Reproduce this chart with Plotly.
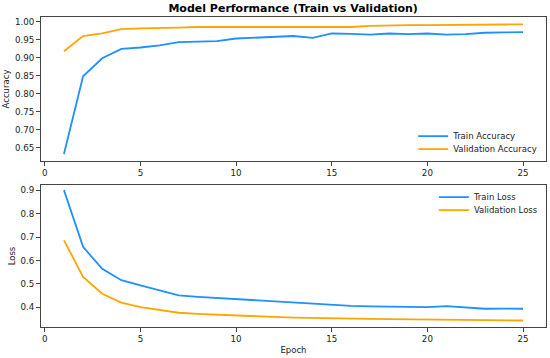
import plotly.graph_objects as go

epochs = list(range(1, 26))
train_acc = [0.632, 0.848, 0.898, 0.924, 0.928, 0.934, 0.943, 0.945, 0.946, 0.953, 0.955, 0.956,
             0.960, 0.955, 0.967, 0.966, 0.964, 0.967, 0.965, 0.967, 0.964, 0.965, 0.969, 0.970, 0.971]
val_acc = [0.9175, 0.960, 0.9675, 0.979, 0.981, 0.981, 0.983, 0.985, 0.985, 0.985, 0.985, 0.985,
           0.985, 0.985, 0.985, 0.985, 0.988, 0.990, 0.990, 0.990, 0.990, 0.990, 0.990, 0.992, 0.9925]
train_loss = [0.900, 0.658, 0.564, 0.516, 0.494, 0.473, 0.451, 0.445, 0.440, 0.434, 0.428, 0.425,
              0.420, 0.414, 0.408, 0.406, 0.404, 0.404, 0.404, 0.401, 0.405, 0.400, 0.394, 0.395, 0.394]
val_loss = [0.686, 0.530, 0.458, 0.420, 0.401, 0.388, 0.377, 0.372, 0.368, 0.364, 0.361, 0.359,
            0.356, 0.354, 0.353, 0.352, 0.351, 0.350, 0.349, 0.347, 0.347, 0.346, 0.345, 0.345, 0.344]
x_ticks = [0, 5, 10, 15, 20, 25]

BLUE = "#1E90FF"
ORANGE = "#FFA500"
LW = 1.8

fig = go.Figure()
fig.add_trace(go.Scatter(x=epochs, y=train_acc, mode="lines", name="Train Accuracy", showlegend=True,
                         line=dict(color=BLUE, width=LW), xaxis="x", yaxis="y", legend="legend"))
fig.add_trace(go.Scatter(x=epochs, y=val_acc, mode="lines", name="Validation Accuracy", showlegend=True,
                         line=dict(color=ORANGE, width=LW), xaxis="x", yaxis="y", legend="legend2"))
fig.add_trace(go.Scatter(x=epochs, y=train_loss, mode="lines", name="Train Loss", showlegend=True,
                         line=dict(color=BLUE, width=LW), xaxis="x2", yaxis="y2", legend="legend3"))
fig.add_trace(go.Scatter(x=epochs, y=val_loss, mode="lines", name="Validation Loss", showlegend=True,
                         line=dict(color=ORANGE, width=LW), xaxis="x2", yaxis="y2", legend="legend4"))

TICK_FONT = dict(size=8.7, color="#222")
LABEL_FONT = dict(size=8.5, color="#222")

axis_common = dict(showline=True, linecolor="#444", linewidth=1, mirror=True, ticks="outside",
                   ticklen=4, tickcolor="#444", showgrid=False, zeroline=False, automargin=False,
                   tickfont=TICK_FONT)

def leg(x, y):
    return dict(x=x, y=y, xanchor="left", yanchor="middle", bgcolor="rgba(0,0,0,0)",
                font=LABEL_FONT, borderwidth=0, visible=True)

fig.update_layout(
    width=550, height=358, autosize=False, showlegend=True,
    margin=dict(l=41, r=4, t=17, b=31),
    paper_bgcolor="white", plot_bgcolor="white",
    font=dict(family="DejaVu Sans", size=9, color="#222"),
    title=dict(text="<b>Model Performance (Train vs Validation)</b>", x=0.533, xanchor="center",
               y=0.976, yanchor="middle", font=dict(size=11, color="black")),
    xaxis=dict(domain=[0, 1], anchor="y", range=[-0.2, 26.2], tickvals=x_ticks, **axis_common),
    yaxis=dict(domain=[0.5355, 1.0], anchor="x", range=[0.6125, 1.0128],
               tickvals=[0.65, 0.70, 0.75, 0.80, 0.85, 0.90, 0.95, 1.00], tickformat=".2f",
               title=dict(text="Accuracy", font=LABEL_FONT, standoff=3), **axis_common),
    xaxis2=dict(domain=[0, 1], anchor="y2", range=[-0.2, 26.2], tickvals=x_ticks,
                title=dict(text="Epoch", font=LABEL_FONT, standoff=3), **axis_common),
    yaxis2=dict(domain=[0, 0.458], anchor="x2", range=[0.3162, 0.9218],
                tickvals=[0.4, 0.5, 0.6, 0.7, 0.8, 0.9], tickformat=".1f",
                title=dict(text="Loss", font=LABEL_FONT, standoff=3), **axis_common),
    legend=leg(0.737, 0.616),
    legend2=leg(0.737, 0.574),
    legend3=leg(0.778, 0.419),
    legend4=leg(0.778, 0.377),
)

fig.write_html("out.html", config={"responsive": False, "displayModeBar": False},
               post_script="document.body.style.margin='0';document.body.style.overflow='hidden';")
